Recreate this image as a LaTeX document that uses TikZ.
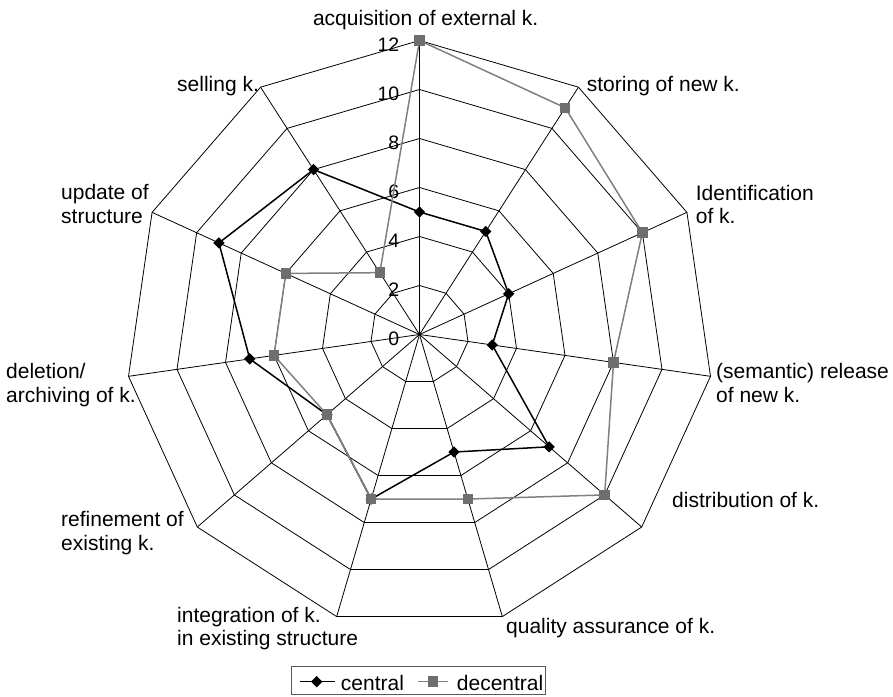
\documentclass[tikz,border=0pt]{standalone}
\usepackage{fontspec}
\setmainfont{Liberation Sans}
\usetikzlibrary{shapes.geometric}
\definecolor{lgray}{RGB}{128,128,128}
\definecolor{mgray}{RGB}{110,110,110}
\begin{document}
\begin{tikzpicture}[x=1pt,y=1pt,
  gridline/.style={black,line width=0.8pt},
  cline/.style={black,line width=1.5pt,line join=round},
  dline/.style={lgray,line width=1.5pt,line join=round},
  cmark/.style={diamond,fill=black,inner sep=0pt,minimum width=11.5pt,minimum height=11.5pt},
  dmark/.style={rectangle,fill=mgray,inner sep=0pt,minimum size=10.5pt},
  lbl/.style={inner sep=0pt,font=\fontsize{21}{24}\selectfont},
  tick/.style={inner sep=0pt,font=\fontsize{19.5}{22}\selectfont,anchor=east}]
\useasboundingbox (0,0) rectangle (893,696);
\begin{scope}[shift={(419.5,361.5)}]
  \coordinate (O) at (0,0);
  \foreach \k in {0,...,10} \coordinate (ax\k) at ({90-\k*360/11}:294);
  \foreach \r in {49,98,147,196,245,294}
    \draw[gridline] (90:\r) \foreach \k in {1,...,10}{ -- ({90-\k*360/11}:\r)} -- cycle;
  \foreach \k in {0,...,10} \draw[gridline] (O) -- (ax\k);
  \foreach \v [count=\i from 0] in {0,2,...,12} \node[tick] (t\i) at (-20,{\v*24.5-4.3}) {\v};
  \foreach \v [count=\k from 0] in {5,5,4,3,7,5,7,5,7,9,8}
    \coordinate (c\k) at ({90-\k*360/11}:{\v*24.5});
  \foreach \v [count=\k from 0] in {12,11,10,8,10,7,7,5,6,6,3}
    \coordinate (d\k) at ({90-\k*360/11}:{\v*24.5});
  \draw[cline] (c0) -- (c1) -- (c2) -- (c3) -- (c4) -- (c5) -- (c6) -- (c7) -- (c8) -- (c9) -- (c10) -- cycle;
  \foreach \k in {0,...,10} \node[cmark] (cm\k) at (c\k) {};
  \draw[dline] (d0) -- (d1) -- (d2) -- (d3) -- (d4) -- (d5) -- (d6) -- (d7) -- (d8) -- (d9) -- (d10) -- cycle;
  \foreach \k in {0,...,10} \node[dmark] (dm\k) at (d\k) {};
\end{scope}
% category labels
\node[lbl,anchor=base] (L0) at (425.7,670) {acquisition of external k.};
\node[lbl,anchor=base west] (L1) at (586.7,604.3) {storing of new k.};
\node[lbl,anchor=base west] (L2a) at (695.7,495.5) {Identification};
\node[lbl,anchor=base west] (L2b) at (695.7,472) {of k.};
\node[lbl,anchor=base west] (L3a) at (716,317) {(semantic) release};
\node[lbl,anchor=base west] (L3b) at (716,293.5) {of new k.};
\node[lbl,anchor=base west] (L4) at (672,189) {distribution of k.};
\node[lbl,anchor=base west] (L5) at (506,63) {quality assurance of k.};
\node[lbl,anchor=base west] (L6a) at (177,74) {integration of k.};
\node[lbl,anchor=base west] (L6b) at (177,50.5) {in existing structure};
\node[lbl,anchor=base west] (L7a) at (61,170) {refinement of};
\node[lbl,anchor=base west] (L7b) at (61,146) {existing k.};
\node[lbl,anchor=base west] (L8a) at (6,317) {deletion/};
\node[lbl,anchor=base west] (L8b) at (6,293) {archiving of k.};
\node[lbl,anchor=base west] (L9a) at (61,496) {update of};
\node[lbl,anchor=base west] (L9b) at (61,472) {structure};
\node[lbl,anchor=base west] (L10) at (177,604.3) {selling k.};
% legend
\node[draw=black!65,line width=0.8pt,inner sep=0pt,minimum width=254.3pt,minimum height=28.3pt,anchor=south west] (leg) at (290.7,1) {};
\coordinate (lc1) at (300,14.3);
\coordinate (lc2) at (335,14.3);
\draw[cline] (lc1) -- (lc2);
\node[cmark] (lcm) at (316.7,14.3) {};
\node[lbl,anchor=base west] (lct) at (340.7,5.3) {central};
\coordinate (ld1) at (418,14.3);
\coordinate (ld2) at (448,14.3);
\draw[dline] (ld1) -- (ld2);
\node[dmark] (ldm) at (433,14.3) {};
\node[lbl,anchor=base west] (ldt) at (456.7,5.3) {decentral};
\end{tikzpicture}
\end{document}
